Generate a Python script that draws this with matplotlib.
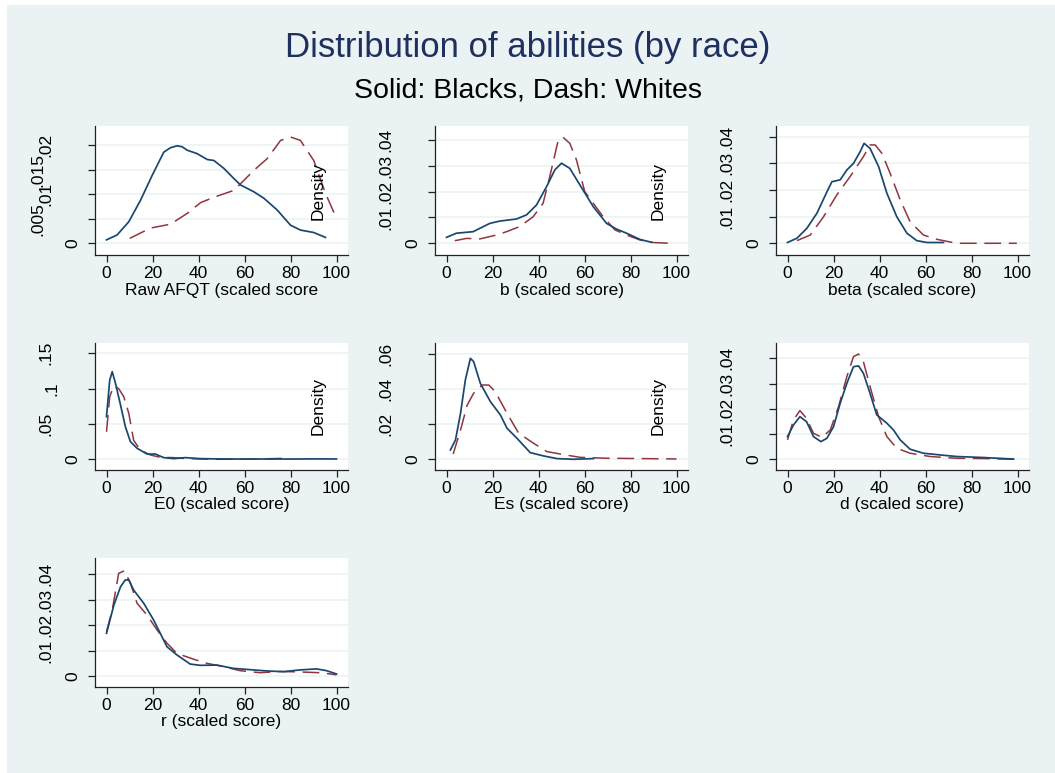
import matplotlib
matplotlib.use("Agg")
import matplotlib.pyplot as plt
from matplotlib.patches import Rectangle
from matplotlib.transforms import blended_transform_factory, ScaledTranslation

plt.rcParams["font.family"] = ["Liberation Sans", "DejaVu Sans"]

# ---------------------------------------------------------------- data
# Kernel density estimates of each scaled ability score (0-100), by race.
afqt_blk_x = [0, 4.6, 9.7, 14.8, 19.9, 24.9, 27.8, 30.7, 32.9, 35.1, 39.4, 43.8, 46.7,
              51.0, 55.4, 58.3, 64.1, 68.4, 74.2, 80.0, 84.3, 90.1, 95.2]
afqt_blk_y = [0.0007, 0.0017, 0.0044, 0.0088, 0.0139, 0.0186, 0.0195, 0.0199, 0.0197,
              0.0190, 0.0183, 0.0171, 0.0169, 0.0153, 0.0132, 0.0119, 0.0105, 0.0092,
              0.0068, 0.0037, 0.0027, 0.0022, 0.0012]
afqt_wht_x = [10.1, 19.1, 27.8, 35.1, 40.9, 46.7, 55.4, 64.1, 69.9, 75.7, 80.0, 84.3,
              90.1, 95.2, 100]
afqt_wht_y = [0.0010, 0.0031, 0.0039, 0.0061, 0.0083, 0.0094, 0.0108, 0.0149, 0.0173,
              0.0210, 0.0217, 0.0210, 0.0169, 0.0102, 0.0051]

b_blk_x = [0, 4.3, 11.6, 18.8, 23.2, 30.4, 34.8, 39.1, 43.5, 47.1, 50.0, 53.6, 58.0,
           63.8, 69.6, 73.9, 78.3, 84.1, 89.1]
b_blk_y = [0.0023, 0.0039, 0.0045, 0.0077, 0.0086, 0.0094, 0.0110, 0.0148, 0.0219,
           0.0284, 0.0310, 0.0290, 0.0226, 0.0142, 0.0077, 0.0055, 0.0039, 0.0015, 0.0004]
b_wht_x = [3.6, 8.7, 14.5, 21.7, 26.1, 31.9, 37.7, 42.0, 44.9, 48.6, 50.7, 53.6, 56.5,
           60.1, 63.8, 68.1, 73.2, 78.3, 84.1, 89.9, 97.1]
b_wht_y = [0.0010, 0.0019, 0.0017, 0.0032, 0.0045, 0.0065, 0.0103, 0.0155, 0.0258,
           0.0400, 0.0410, 0.0387, 0.0323, 0.0200, 0.0155, 0.0103, 0.0052, 0.0032,
           0.0013, 0.0003, 0.0]

beta_blk_x = [0, 4.1, 8.4, 12.8, 17.2, 19.3, 22.9, 25.8, 28.7, 31.6, 33.3, 35.9, 39.6,
              43.2, 47.5, 51.9, 56.2, 60.6, 67.8]
beta_blk_y = [0.0003, 0.0019, 0.0056, 0.0113, 0.0194, 0.0231, 0.0238, 0.0275, 0.0300,
              0.0344, 0.0375, 0.0356, 0.0288, 0.0188, 0.0100, 0.0038, 0.0010, 0.0003,
              0.0003]
beta_wht_x = [4.1, 9.9, 15.7, 21.4, 27.2, 33.0, 35.9, 38.1, 41.0, 44.6, 49.0, 53.3,
              59.1, 64.9, 73.6, 80.9, 99.7]
beta_wht_y = [0.0010, 0.0031, 0.0100, 0.0181, 0.0250, 0.0325, 0.0369, 0.0369, 0.0338,
              0.0263, 0.0163, 0.0081, 0.0031, 0.0015, 0.0, 0.0, 0.0]

e0_blk_x = [0, 1.4, 2.5, 3.9, 6.1, 8.2, 10.4, 13.3, 17.6, 21.2, 24.9, 29.2, 34.2, 40.8,
            50, 60, 70, 80, 90, 100]
e0_blk_y = [0.0604, 0.112, 0.124, 0.1075, 0.0769, 0.0462, 0.025, 0.0156, 0.0075,
            0.0075, 0.0024, 0.001, 0.0024, 0.001, 0.0005, 0.0004, 0.0005, 0.0004,
            0.0006, 0.0005]
e0_wht_x = [0, 1.4, 3.2, 5.3, 7.5, 9.7, 11.8, 14.7, 19.1, 23.4, 29.2, 35.0, 46.5, 60,
            70, 76.9]
e0_wht_y = [0.039, 0.0887, 0.1038, 0.100, 0.0887, 0.065, 0.027, 0.0132, 0.0061, 0.0028,
            0.0024, 0.001, 0.0, 0.0003, 0.0008, 0.0014]

es_blk_x = [1.7, 3.9, 6.1, 8.2, 10.4, 11.8, 14.7, 19.1, 23.4, 26.3, 30.6, 36.4, 42.2,
            48.0, 55.2, 63.9]
es_blk_y = [0.0053, 0.011, 0.0262, 0.0452, 0.0575, 0.0556, 0.0433, 0.0328, 0.0253,
            0.0177, 0.012, 0.0038, 0.0019, 0.0004, 0.0, 0.0004]
es_wht_x = [2.9, 6.1, 9.0, 11.8, 15.5, 18.4, 21.2, 26.3, 31.4, 37.9, 43.6, 49.4, 58.1,
            69.7, 100]
es_wht_y = [0.003, 0.0167, 0.0309, 0.0376, 0.0423, 0.0423, 0.0385, 0.0262, 0.0148,
            0.0091, 0.0044, 0.003, 0.0011, 0.0006, 0.0002]

d_blk_x = [0, 2.6, 5.4, 8.3, 11.3, 14.5, 17.1, 20.0, 22.9, 25.8, 28.7, 30.9, 33.0, 35.9,
           38.8, 43.2, 46.1, 49.0, 53.3, 59.1, 67.8, 73.6, 85.2, 98.3]
d_blk_y = [0.009, 0.0136, 0.0169, 0.0149, 0.009, 0.0070, 0.0083, 0.0129, 0.0222, 0.0301,
           0.0367, 0.037, 0.0341, 0.0261, 0.0176, 0.0143, 0.0116, 0.0077, 0.004, 0.0024,
           0.0016, 0.0011, 0.0007, 0.0001]
d_wht_x = [0, 2.6, 5.4, 8.3, 11.3, 14.9, 18.6, 22.2, 25.8, 28.7, 30.9, 33.0, 35.9, 39.6,
           43.2, 47.5, 53.3, 62.0, 73.6, 85.2, 98.3]
d_wht_y = [0.0077, 0.0156, 0.0193, 0.0162, 0.0103, 0.0087, 0.0116, 0.0209, 0.0327,
           0.0407, 0.0417, 0.0387, 0.0288, 0.0169, 0.009, 0.0044, 0.0024, 0.0011,
           0.0004, 0.0003, 0.0]

r_blk_x = [0, 3.2, 6.1, 8.2, 9.7, 11.8, 16.2, 20.5, 26.3, 30.6, 36.4, 40.8, 48.0, 55.2,
           63.9, 69.7, 76.9, 84.1, 91.3, 95.7, 100]
r_blk_y = [0.0168, 0.0279, 0.0351, 0.0378, 0.0378, 0.0338, 0.0286, 0.022, 0.0115,
           0.0083, 0.0047, 0.0042, 0.0043, 0.003, 0.0024, 0.002, 0.0017, 0.0024,
           0.0028, 0.0021, 0.0008]
r_wht_x = [0, 2.5, 5.3, 7.8, 10.4, 13.3, 17.6, 22.0, 26.3, 30.6, 37.9, 43.6, 50.9, 58.1,
           66.8, 75.4, 84.1, 92.8, 100]
r_wht_y = [0.0174, 0.026, 0.0404, 0.0414, 0.0365, 0.0286, 0.024, 0.0181, 0.0129, 0.0089,
           0.0066, 0.005, 0.0037, 0.0021, 0.0013, 0.0018, 0.0016, 0.0013, 0.0005]

x_titles = ["Raw AFQT (scaled score", "b (scaled score)", "beta (scaled score)",
            "E0 (scaled score)", "Es (scaled score)", "d (scaled score)",
            "r (scaled score)"]

ticks_02 = [0, 0.005, 0.01, 0.015, 0.02]
labels_02 = ["0", ".005", ".01", ".015", ".02"]
ticks_04 = [0, 0.01, 0.02, 0.03, 0.04]
labels_04 = ["0", ".01", ".02", ".03", ".04"]
ticks_15 = [0, 0.05, 0.1, 0.15]
labels_15 = ["0", ".05", ".1", ".15"]
ticks_06 = [0, 0.02, 0.04, 0.06]
labels_06 = ["0", ".02", ".04", ".06"]

x_ticks = [0, 20, 40, 60, 80, 100]

panels = [
    (afqt_blk_x, afqt_blk_y, afqt_wht_x, afqt_wht_y, ticks_02, labels_02, (-0.00239, 0.02394), True),
    (b_blk_x, b_blk_y, b_wht_x, b_wht_y, ticks_04, labels_04, (-0.00453, 0.0454), True),
    (beta_blk_x, beta_blk_y, beta_wht_x, beta_wht_y, ticks_04, labels_04, (-0.00439, 0.0440), False),
    (e0_blk_x, e0_blk_y, e0_wht_x, e0_wht_y, ticks_15, labels_15, (-0.0151, 0.165), True),
    (es_blk_x, es_blk_y, es_wht_x, es_wht_y, ticks_06, labels_06, (-0.0061, 0.0664), True),
    (d_blk_x, d_blk_y, d_wht_x, d_wht_y, ticks_04, labels_04, (-0.00424, 0.0462), False),
    (r_blk_x, r_blk_y, r_wht_x, r_wht_y, ticks_04, labels_04, (-0.0042, 0.0463), False),
]

# ---------------------------------------------------------------- style
W, H = 1055, 773
BG = "#EAF2F3"
NAVY = "#1A476F"
MAROON = "#90353B"
TITLE_COL = "#1F2F5E"

col_left = [95, 435, 776]
row_top = [126, 342.7, 558.3]
row_bottom = [255, 470, 686.7]
panel_w = 253

# horizontal offset (px) of rotated y labels from the axis, by label length
label_offset = {1: 22, 2: 43, 3: 49, 4: 57}

fig = plt.figure(figsize=(W / 100, H / 100), dpi=100)
fig.patch.set_facecolor("white")
fig.patches.append(Rectangle((7 / W, 0), 1 - 7 / W, (H - 5) / H,
                             transform=fig.transFigure, facecolor=BG,
                             edgecolor="none", zorder=-10))

fig.text(0.5, 1 - 56.7 / H, "Distribution of abilities (by race)", ha="center",
         va="baseline", fontsize=25, color=TITLE_COL)
fig.text(0.5, 1 - 97.3 / H, "Solid: Blacks, Dash: Whites", ha="center",
         va="baseline", fontsize=20.5, color="black")

for i, (bx, by, wx, wy, yt, yl, ylim, dens) in enumerate(panels):
    r, c = divmod(i, 3)
    left = col_left[c]
    top = row_top[r]
    bottom = row_bottom[r]
    ax = fig.add_axes([left / W, 1 - bottom / H, panel_w / W, (bottom - top) / H])
    ax.set_facecolor("white")
    ax.plot(bx, by, color=NAVY, lw=1.25, solid_joinstyle="round", zorder=3)
    ax.plot(wx, wy, color=MAROON, lw=1.1, linestyle=(0, (11, 5)), zorder=2)
    ax.set_xlim(-5, 105)
    ax.set_ylim(*ylim)
    ax.set_xticks(x_ticks)
    ax.set_xticklabels([str(v) for v in x_ticks], fontsize=12.5)
    ax.set_yticks(yt)
    ax.set_yticklabels([])
    ax.grid(axis="y", color=BG, lw=1.1)
    ax.set_axisbelow(True)
    for s in ("top", "right"):
        ax.spines[s].set_visible(False)
    for s in ("left", "bottom"):
        ax.spines[s].set_color("#222222")
        ax.spines[s].set_linewidth(0.9)
    ax.tick_params(axis="both", direction="out", length=5, width=0.9, color="#222222")
    ax.tick_params(axis="x", pad=3)
    ax.set_xlabel(x_titles[i], fontsize=12.5, labelpad=1)

    trans = blended_transform_factory(ax.transAxes, ax.transData)
    for v, lab in zip(yt, yl):
        off = ScaledTranslation(-label_offset[len(lab)] / 100, 0, fig.dpi_scale_trans)
        ax.text(0, v, lab, transform=trans + off, rotation=90, ha="center",
                va="center", fontsize=12.5)
    if dens:
        ax.text(0.881, 0.5, "Density", transform=ax.transAxes, rotation=90,
                ha="center", va="center", fontsize=12.5)

fig.savefig("out.png", dpi=100, facecolor=fig.get_facecolor())
